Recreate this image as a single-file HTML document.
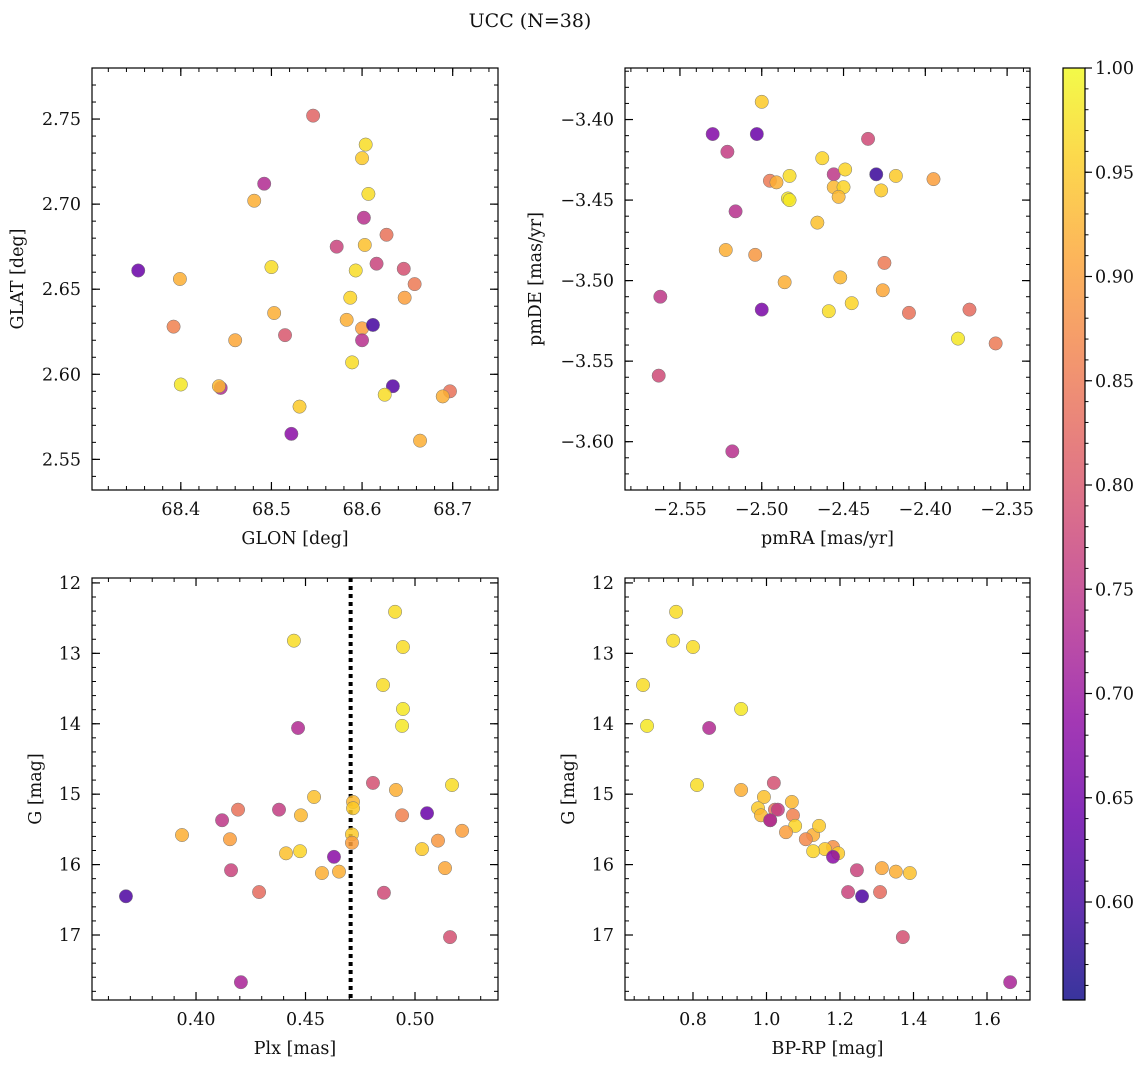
<!DOCTYPE html>
<html><head><meta charset="utf-8"><style>
html,body{margin:0;padding:0;background:#fff}
svg{display:block;font-family:"DejaVu Serif","Liberation Serif",serif}
</style></head><body>
<svg id="fig" width="1148" height="1067" viewBox="0 0 1148 1067">
<text x="530" y="27" text-anchor="middle" font-size="19" fill="#111">UCC (N=38)</text>
</svg>
<script>
// Panel 1: GLON vs GLAT
const glonTL=[68.546,68.604,68.600,68.492,68.607,68.481,68.602,68.627,68.572,68.603,68.353,68.500,68.616,68.593,68.646,68.658,68.399,68.587,68.647,68.503,68.392,68.583,68.600,68.612,68.515,68.460,68.600,68.589,68.400,68.444,68.442,68.634,68.697,68.689,68.625,68.531,68.522,68.664];
const glatTL=[2.752,2.735,2.727,2.712,2.706,2.702,2.692,2.682,2.675,2.676,2.661,2.663,2.665,2.661,2.662,2.653,2.656,2.645,2.645,2.636,2.628,2.632,2.627,2.629,2.623,2.620,2.620,2.607,2.594,2.592,2.593,2.593,2.590,2.587,2.588,2.581,2.565,2.561];
const probTL=[0.82,0.97,0.95,0.73,0.97,0.92,0.74,0.84,0.77,0.94,0.64,0.97,0.77,0.97,0.79,0.85,0.92,0.96,0.90,0.92,0.86,0.92,0.90,0.60,0.80,0.91,0.74,0.97,0.98,0.73,0.93,0.62,0.84,0.92,0.97,0.95,0.68,0.92];
// Panel 2: pmRA vs pmDE
const pmraTR=[-2.500,-2.530,-2.503,-2.435,-2.521,-2.430,-2.463,-2.456,-2.483,-2.418,-2.449,-2.495,-2.491,-2.395,-2.456,-2.450,-2.427,-2.453,-2.484,-2.483,-2.516,-2.466,-2.522,-2.504,-2.425,-2.452,-2.486,-2.426,-2.562,-2.445,-2.459,-2.500,-2.373,-2.410,-2.380,-2.357,-2.563,-2.518];
const pmdeTR=[-3.389,-3.409,-3.409,-3.412,-3.420,-3.434,-3.424,-3.434,-3.435,-3.435,-3.431,-3.438,-3.439,-3.437,-3.442,-3.442,-3.444,-3.448,-3.449,-3.450,-3.457,-3.464,-3.481,-3.484,-3.489,-3.498,-3.501,-3.506,-3.510,-3.514,-3.519,-3.518,-3.518,-3.520,-3.536,-3.539,-3.559,-3.606];
const probTR=[0.95,0.67,0.64,0.78,0.76,0.59,0.96,0.75,0.97,0.95,0.96,0.85,0.92,0.90,0.93,0.96,0.95,0.93,0.98,0.98,0.74,0.94,0.92,0.89,0.85,0.93,0.92,0.91,0.75,0.96,0.97,0.66,0.83,0.84,0.98,0.85,0.78,0.74];
// Panel 3: Plx vs G
const plxBL=[0.4909,0.4447,0.4945,0.4854,0.4945,0.4941,0.4466,0.4808,0.4913,0.5169,0.4539,0.4717,0.4717,0.4192,0.4379,0.4479,0.4941,0.5055,0.4119,0.3936,0.5215,0.4712,0.4155,0.5105,0.4712,0.5032,0.4475,0.4411,0.4630,0.4160,0.5137,0.4575,0.4653,0.3680,0.4288,0.4858,0.5160,0.4205];
const gBL=[12.41,12.82,12.91,13.45,13.79,14.03,14.06,14.84,14.94,14.87,15.04,15.11,15.20,15.22,15.22,15.30,15.30,15.27,15.37,15.58,15.52,15.57,15.64,15.66,15.69,15.78,15.81,15.84,15.89,16.08,16.05,16.12,16.10,16.45,16.39,16.40,17.03,17.67];
const probBL=[0.97,0.97,0.97,0.97,0.98,0.98,0.73,0.79,0.92,0.97,0.94,0.93,0.95,0.84,0.76,0.93,0.86,0.64,0.75,0.92,0.90,0.95,0.90,0.89,0.90,0.95,0.96,0.94,0.68,0.77,0.91,0.92,0.92,0.61,0.83,0.78,0.79,0.72];
const plxLine=[0.4706];
// Panel 4: BP-RP vs G
const bprpBR=[0.754,0.746,0.800,0.664,0.931,0.675,0.844,1.020,0.931,0.811,0.993,1.069,0.977,1.023,1.031,0.985,1.072,1.010,1.010,1.127,1.078,1.143,1.107,1.181,1.053,1.159,1.127,1.195,1.181,1.246,1.314,1.352,1.390,1.260,1.309,1.222,1.371,1.663];
const gBR=[12.41,12.82,12.91,13.45,13.79,14.03,14.06,14.84,14.94,14.87,15.04,15.11,15.20,15.22,15.22,15.30,15.30,15.37,15.37,15.58,15.45,15.45,15.64,15.75,15.54,15.78,15.81,15.84,15.89,16.08,16.05,16.10,16.12,16.45,16.39,16.39,17.03,17.67];
const probBR=[0.97,0.97,0.97,0.97,0.98,0.98,0.73,0.79,0.92,0.97,0.94,0.93,0.95,0.84,0.76,0.93,0.86,0.64,0.75,0.92,0.96,0.95,0.87,0.88,0.90,0.95,0.96,0.95,0.68,0.77,0.91,0.92,0.94,0.61,0.83,0.77,0.79,0.72];
// ticks
const ticksTLx=[68.4,68.5,68.6,68.7], ticksTLy=[2.55,2.60,2.65,2.70,2.75];
const ticksTRx=[-2.55,-2.50,-2.45,-2.40,-2.35], ticksTRy=[-3.60,-3.55,-3.50,-3.45,-3.40];
const ticksBLx=[0.40,0.45,0.50], ticksG=[12,13,14,15,16,17];
const ticksBRx=[0.8,1.0,1.2,1.4,1.6];
const ticksCbar=[0.60,0.65,0.70,0.75,0.80,0.85,0.90,0.95,1.00];
const cmin=0.553,cmax=1.0;

const NS="http://www.w3.org/2000/svg";
const svg=document.getElementById('fig');
const FS=17.5;
function mk(tag,attrs,parent){const e=document.createElementNS(NS,tag);for(const k in attrs)e.setAttribute(k,attrs[k]);(parent||svg).appendChild(e);return e;}
const stops=[[13,8,135],[65,4,157],[106,0,168],[143,13,164],[177,42,144],[204,71,120],[225,100,98],[242,132,75],[252,166,54],[252,206,37],[240,249,33]];
function plasma(t){t=Math.max(0,Math.min(1,t));const f=t*10,i=Math.min(9,Math.floor(f)),r=f-i;const a=stops[i],b=stops[i+1];
 return 'rgb('+a.map((v,k)=>Math.round(v+(b[k]-v)*r)).join(',')+')';}
function col(p){return plasma((p-cmin)/(cmax-cmin));}
function fmt(v,d){const s=Math.abs(v).toFixed(d);return (v<0?'\u2212':'')+s;}

function panel(o){
 const {x0,y0,x1,y1,xmin,xmax,ymin,ymax,inv}=o;
 const g=mk('g',{});  
 const sx=v=>x0+(v-xmin)/(xmax-xmin)*(x1-x0);
 const sy=v=>inv? y0+(v-ymin)/(ymax-ymin)*(y1-y0) : y1-(v-ymin)/(ymax-ymin)*(y1-y0);
 const eps=1e-9;
 for(let v=Math.ceil(xmin/o.xminor-eps)*o.xminor;v<=xmax+eps;v+=o.xminor){const X=sx(v);
  mk('line',{x1:X,x2:X,y1:y1,y2:y1-4,stroke:'#000','stroke-width':1},g);mk('line',{x1:X,x2:X,y1:y0,y2:y0+4,stroke:'#000','stroke-width':1},g);}
 for(let v=Math.ceil(ymin/o.yminor-eps)*o.yminor;v<=ymax+eps;v+=o.yminor){const Y=sy(v);
  mk('line',{x1:x0,x2:x0+4,y1:Y,y2:Y,stroke:'#000','stroke-width':1},g);mk('line',{x1:x1,x2:x1-4,y1:Y,y2:Y,stroke:'#000','stroke-width':1},g);}
 o.xt.forEach(v=>{const X=sx(v);
  mk('line',{x1:X,x2:X,y1:y1,y2:y1-8,stroke:'#000','stroke-width':1.2},g);mk('line',{x1:X,x2:X,y1:y0,y2:y0+8,stroke:'#000','stroke-width':1.2},g);
  const t=mk('text',{x:X,y:y1+25,'text-anchor':'middle','font-size':FS,fill:'#111'},g);t.textContent=fmt(v,o.xd);
  });
 o.yt.forEach(v=>{const Y=sy(v);
  mk('line',{x1:x0,x2:x0+8,y1:Y,y2:Y,stroke:'#000','stroke-width':1.2},g);mk('line',{x1:x1,x2:x1-8,y1:Y,y2:Y,stroke:'#000','stroke-width':1.2},g);
  const t=mk('text',{x:x0-11,y:Y+6,'text-anchor':'end','font-size':FS,fill:'#111'},g);t.textContent=fmt(v,o.yd);
  });
 if(o.vline){o.vline.forEach(v=>{const l=mk('line',{x1:sx(v),x2:sx(v),y1:y0,y2:y1,stroke:'#000','stroke-width':4,'stroke-dasharray':'4,4'},g);
  });}
 o.xs.forEach((v,i)=>{const c=mk('circle',{cx:sx(v),cy:sy(o.ys[i]),r:6.7,fill:col(o.cs[i]),'fill-opacity':0.85,stroke:'#777','stroke-width':0.5},g);
  });
 mk('rect',{x:x0,y:y0,width:x1-x0,height:y1-y0,fill:'none',stroke:'#000','stroke-width':1.2},g);
 const xl=mk('text',{x:(x0+x1)/2,y:y1+54,'text-anchor':'middle','font-size':FS,fill:'#111'},g);xl.textContent=o.xl;
 
 const yx=o.ylx,yy=(y0+y1)/2;
 const yl=mk('text',{x:yx,y:yy,'text-anchor':'middle','font-size':FS,fill:'#111',transform:`rotate(-90 ${yx} ${yy})`},g);yl.textContent=o.yl;
 
}
panel({name:'glon-glat-panel',x0:92,y0:68,x1:498,y1:490,xmin:68.302,xmax:68.750,ymin:2.532,ymax:2.780,xs:glonTL,ys:glatTL,cs:probTL,xt:ticksTLx,yt:ticksTLy,xd:1,yd:2,xminor:0.02,yminor:0.01,xl:'GLON [deg]',yl:'GLAT [deg]',ylx:23});
panel({name:'pm-panel',x0:625,y0:68,x1:1030,y1:490,xmin:-2.5836,xmax:-2.336,ymin:-3.630,ymax:-3.368,xs:pmraTR,ys:pmdeTR,cs:probTR,xt:ticksTRx,yt:ticksTRy,xd:2,yd:2,xminor:0.01,yminor:0.01,xl:'pmRA [mas/yr]',yl:'pmDE [mas/yr]',ylx:541});
panel({name:'plx-g-panel',x0:92,y0:578,x1:498,y1:1000,xmin:0.3525,xmax:0.5379,ymin:11.93,ymax:17.923,inv:true,xs:plxBL,ys:gBL,cs:probBL,xt:ticksBLx,yt:ticksG,xd:2,yd:0,xminor:0.01,yminor:0.2,xl:'Plx [mas]',yl:'G [mag]',ylx:41,vline:plxLine});
panel({name:'cmd-panel',x0:625,y0:578,x1:1030,y1:1000,xmin:0.615,xmax:1.717,ymin:11.93,ymax:17.923,inv:true,xs:bprpBR,ys:gBR,cs:probBR,xt:ticksBRx,yt:ticksG,xd:1,yd:0,xminor:0.04,yminor:0.2,xl:'BP-RP [mag]',yl:'G [mag]',ylx:574});
(function(){
 const x0=1063,x1=1085,y0=68,y1=1000;
 const g=mk('g',{});
 const defs=mk('defs',{},g);const lg=mk('linearGradient',{id:'cb',x1:0,y1:1,x2:0,y2:0},defs);
 for(let i=0;i<=20;i++){mk('stop',{offset:i/20,'stop-color':plasma(i/20)},lg);}
 mk('rect',{x:x0,y:y0,width:x1-x0,height:y1-y0,fill:'url(#cb)','fill-opacity':0.82},g);
 const sy=v=>y1-(v-cmin)/(cmax-cmin)*(y1-y0);
 for(let v=0.56;v<=1.0001;v+=0.01){const Y=sy(v);mk('line',{x1:x1,x2:x1+3.5,y1:Y,y2:Y,stroke:'#000','stroke-width':1},g);}
 ticksCbar.forEach(v=>{const Y=sy(v);mk('line',{x1:x1,x2:x1+7,y1:Y,y2:Y,stroke:'#000','stroke-width':1.2},g);
  const t=mk('text',{x:x1+10,y:Y+6,'font-size':FS,fill:'#111'},g);t.textContent=v.toFixed(2);
  });
 mk('rect',{x:x0,y:y0,width:x1-x0,height:y1-y0,fill:'none',stroke:'#000','stroke-width':1.2},g);
})();
</script>
</body></html>
